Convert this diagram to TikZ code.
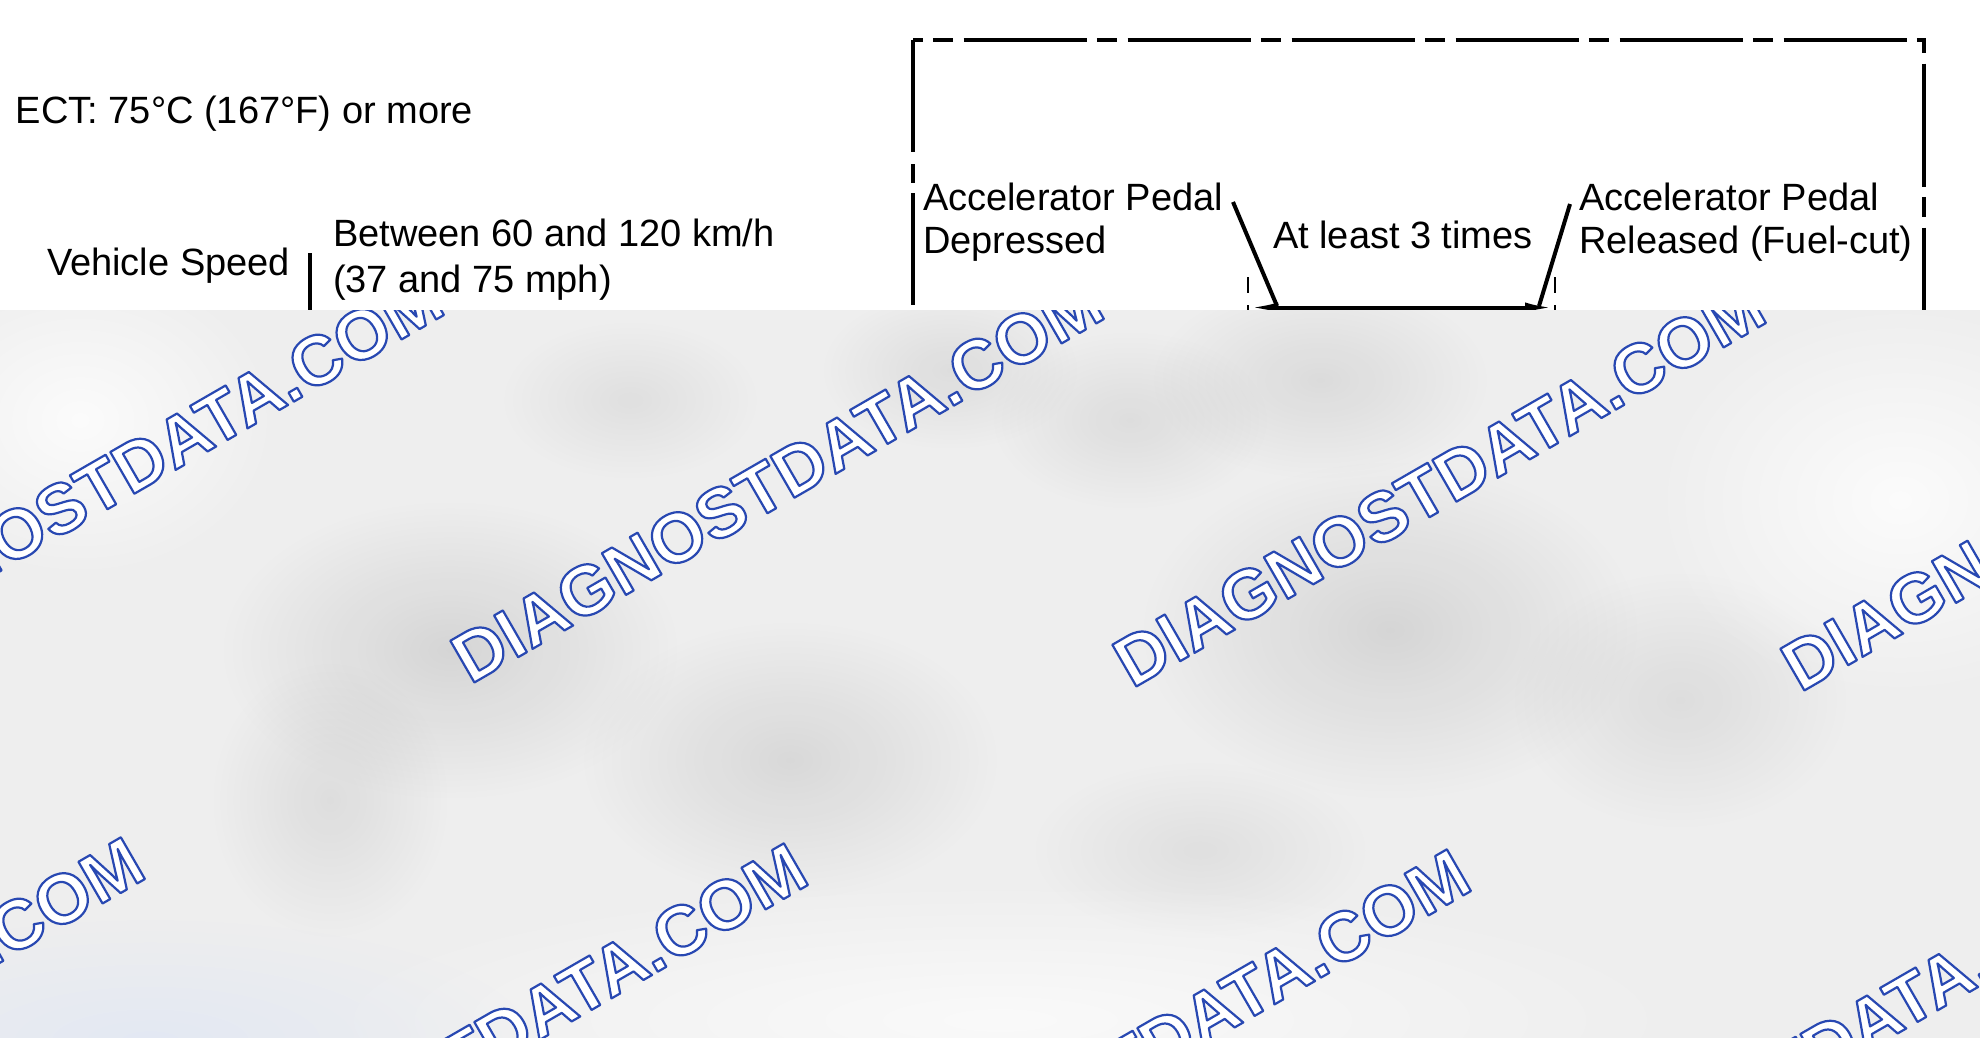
\documentclass[tikz,border=0pt]{standalone}
\usepackage{fontspec}
\setmainfont{Liberation Sans}
\usetikzlibrary{arrows.meta,fadings}
\definecolor{wmblue}{RGB}{40,72,178}
\definecolor{ovbase}{RGB}{238,238,238}
\definecolor{ovblue}{RGB}{226,232,244}
\tikzfading[name=softblob, inner color=transparent!0, outer color=transparent!100]
% outlined text: white fill, blue stroke (PDF text render mode 2)
\newcommand{\wmtext}[1]{\leavevmode{\color{white}%
  \special{pdf:literal direct 1 j 1.1 w 0.157 0.282 0.698 RG 2 Tr}#1%
  \special{pdf:literal direct 0 Tr}}}
\begin{document}
\begin{tikzpicture}[x=0.5pt,y=-0.5pt,
  txt/.style={inner sep=0pt, outer sep=0pt, font=\fontsize{19}{22.5}\selectfont, align=left},
  boxline/.style={line width=1.75pt, black},
  lead/.style={line width=2pt},
  dimline/.style={line width=2pt, {Latex[length=15pt,width=5pt]}-{Latex[length=15pt,width=5pt]}},
  extline/.style={line width=1pt, dash pattern=on 8pt off 6pt},
  wm/.style={anchor=base west, rotate=30, inner sep=0pt, font=\fontsize{35}{40}\selectfont\bfseries},
  blob/.style={path fading=softblob}
]
\useasboundingbox[fill=white] (0,0) rectangle (1980,1038);

% ---- left conditions ----
\node[txt, anchor=base west] (ect) at (16,124) {ECT: 75°C (167°F) or more};
\node[txt, anchor=base west] (vs) at (47,275) {Vehicle Speed};
\node[txt, anchor=north west, font=\fontsize{19}{22.8}\selectfont] (spd) at (333,219) {Between 60 and 120 km/h\\(37 and 75 mph)};
\coordinate (barT) at (310,253);
\coordinate (barB) at (310,320);
\draw[line width=2pt] (barT) -- (barB);

% ---- dash-dot frame ----
\coordinate (bTL) at (913,40);
\coordinate (bTR) at (1924,40);
\coordinate (bBL) at (913,400);
\coordinate (bBR) at (1924,400);
\draw[boxline, dash pattern=on 56pt off 6pt on 9.6pt off 5pt] (bTL) -- (bBL);
\draw[boxline, dash pattern=on 61.6pt off 5pt on 9.9pt off 5.5pt, dash phase=56.7pt] (bTL) -- (bTR) -- (bBR);

% ---- pedal texts ----
\node[txt, anchor=north west, font=\fontsize{19}{21.5}\selectfont] (dep) at (923,182.5) {Accelerator Pedal\\Depressed};
\node[txt, anchor=north west, font=\fontsize{19}{21.5}\selectfont] (rel) at (1579,182.5) {Accelerator Pedal\\Released (Fuel-cut)};
\node[txt, anchor=base west] (times) at (1273,248) {At least 3 times};

% ---- leaders and dimension ----
\coordinate (ldLa) at (1233,202);
\coordinate (ldLb) at (1277,306);
\coordinate (ldRa) at (1570,204);
\coordinate (ldRb) at (1539,306);
\coordinate (dimL) at (1248,307.5);
\coordinate (dimR) at (1555,307.5);
\coordinate (extLt) at (1248,277);
\coordinate (extLb) at (1248,318);
\coordinate (extRt) at (1555,277);
\coordinate (extRb) at (1555,318);
\draw[extline] (extLt) -- (extLb);
\draw[extline] (extRt) -- (extRb);
\draw[dimline] (dimL) -- (dimR);
\draw[lead] (ldLa) -- (ldLb);
\draw[lead] (ldRa) -- (ldRb);

% ---- overlay ----
\begin{scope}
\clip (0,310) rectangle (1980,1038);
\fill[ovbase] (0,310) rectangle (1980,1038);
\fill[black, opacity=0.10, blob] (450,650) ellipse [x radius=230, y radius=150];
\fill[black, opacity=0.09, blob] (790,760) ellipse [x radius=210, y radius=140];
\fill[black, opacity=0.10, blob] (1390,630) ellipse [x radius=250, y radius=170];
\fill[black, opacity=0.08, blob] (1320,380) ellipse [x radius=170, y radius=100];
\fill[black, opacity=0.07, blob] (1130,420) ellipse [x radius=140, y radius=90];
\fill[black, opacity=0.07, blob] (950,370) ellipse [x radius=130, y radius=80];
\fill[black, opacity=0.06, blob] (630,400) ellipse [x radius=130, y radius=80];
\fill[black, opacity=0.07, blob] (1680,700) ellipse [x radius=170, y radius=130];
\fill[black, opacity=0.07, blob] (330,800) ellipse [x radius=120, y radius=140];
\fill[black, opacity=0.06, blob] (1200,850) ellipse [x radius=170, y radius=90];
\fill[white, opacity=0.8, blob] (80,420) ellipse [x radius=200, y radius=160];
\fill[white, opacity=0.8, blob] (1900,500) ellipse [x radius=250, y radius=200];
\fill[white, opacity=0.7, blob] (1000,1020) ellipse [x radius=700, y radius=140];
\fill[ovblue, opacity=0.9, blob] (150,1040) ellipse [x radius=380, y radius=120];
% watermarks
\node[wm] (wm1) at (-190,681) {\wmtext{DIAGNOSTDATA.COM}};
\node[wm] (wm2) at (470,685) {\wmtext{DIAGNOSTDATA.COM}};
\node[wm] (wm3) at (1132,689) {\wmtext{DIAGNOSTDATA.COM}};
\node[wm] (wm4) at (1800,693) {\wmtext{DIAGNOSTDATA.COM}};
\node[wm] (wm5) at (-489,1245) {\wmtext{DIAGNOSTDATA.COM}};
\node[wm] (wm6) at (174,1251) {\wmtext{DIAGNOSTDATA.COM}};
\node[wm] (wm7) at (837,1257) {\wmtext{DIAGNOSTDATA.COM}};
\node[wm] (wm8) at (1500,1263) {\wmtext{DIAGNOSTDATA.COM}};
\end{scope}
\end{tikzpicture}
\end{document}
